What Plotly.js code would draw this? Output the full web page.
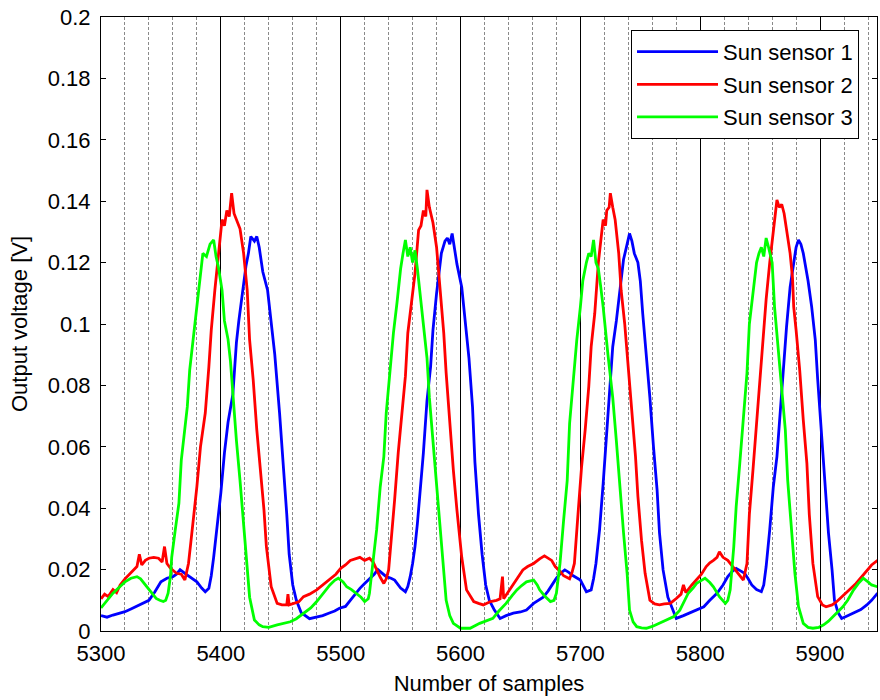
<!DOCTYPE html>
<html>
<head>
<meta charset="utf-8">
<script src="https://cdn.plot.ly/plotly-3.0.1.min.js"></script>
<style>html,body{margin:0;padding:0;background:#fff;}#chart{width:880px;height:700px;}</style>
</head>
<body>
<div id="chart"></div>
<script>
// ---- Data ----
const seriesNames = ["Sun sensor 1", "Sun sensor 2", "Sun sensor 3"];

const samplesS1 = [5300,5305,5310,5315,5320,5325,5330,5335,5340,5345,5350,5355,5360,5363,5366,5370,5373,5377,5380,5384,5387,5390,5392,5394,5397,5400,5403,5406,5410,5413,5415,5418,5421,5423,5425,5428,5430,5432,5435,5439,5442,5445,5449,5452,5455,5457,5460,5463,5467,5474,5480,5485,5490,5495,5499,5504,5508,5512,5516,5520,5524,5528,5531,5535,5538,5542,5545,5550,5554,5556,5558,5560,5562,5564,5566,5569,5572,5575,5577,5580,5584,5587,5589,5591,5593,5595,5597,5601,5604,5607,5610,5612,5615,5618,5621,5624,5628,5633,5638,5644,5650,5655,5661,5665,5669,5673,5676,5680,5684,5687,5690,5694,5700,5705,5709,5711,5713,5716,5719,5722,5725,5727,5730,5733,5736,5739,5741,5743,5745,5748,5750,5752,5755,5758,5761,5764,5766,5769,5773,5777,5780,5786,5791,5797,5803,5808,5814,5819,5823,5827,5830,5834,5837,5840,5843,5847,5851,5853,5855,5858,5861,5864,5867,5869,5872,5875,5878,5880,5882,5884,5886,5890,5893,5896,5898,5901,5904,5907,5910,5912,5915,5918,5923,5928,5934,5939,5943,5948];
const voltS1 = [0.0050,0.0045,0.0052,0.0058,0.0063,0.0072,0.0082,0.0090,0.0100,0.0128,0.0160,0.0172,0.0177,0.0185,0.0200,0.0188,0.0180,0.0170,0.0160,0.0140,0.0128,0.0139,0.0180,0.0240,0.0340,0.0450,0.0580,0.0680,0.0770,0.0940,0.1010,0.1110,0.1190,0.1230,0.1285,0.1270,0.1285,0.1250,0.1170,0.1110,0.1010,0.0900,0.0710,0.0550,0.0380,0.0250,0.0150,0.0100,0.0060,0.0040,0.0045,0.0050,0.0058,0.0065,0.0074,0.0080,0.0100,0.0120,0.0139,0.0155,0.0170,0.0185,0.0200,0.0185,0.0177,0.0172,0.0166,0.0140,0.0128,0.0145,0.0177,0.0220,0.0275,0.0350,0.0438,0.0580,0.0750,0.0860,0.0980,0.1100,0.1230,0.1270,0.1280,0.1260,0.1295,0.1250,0.1195,0.1120,0.1010,0.0890,0.0730,0.0550,0.0380,0.0250,0.0150,0.0100,0.0070,0.0041,0.0050,0.0058,0.0062,0.0068,0.0090,0.0100,0.0110,0.0130,0.0150,0.0172,0.0190,0.0199,0.0192,0.0180,0.0166,0.0128,0.0134,0.0170,0.0220,0.0330,0.0480,0.0640,0.0820,0.0926,0.1010,0.1110,0.1210,0.1260,0.1295,0.1270,0.1230,0.1200,0.1140,0.1035,0.0900,0.0760,0.0600,0.0460,0.0320,0.0199,0.0110,0.0070,0.0041,0.0050,0.0058,0.0068,0.0079,0.0100,0.0123,0.0150,0.0177,0.0195,0.0204,0.0195,0.0188,0.0170,0.0150,0.0135,0.0128,0.0150,0.0210,0.0330,0.0470,0.0568,0.0730,0.0860,0.0990,0.1120,0.1200,0.1250,0.1274,0.1260,0.1230,0.1140,0.1056,0.0948,0.0820,0.0644,0.0460,0.0320,0.0199,0.0100,0.0060,0.0041,0.0050,0.0058,0.0070,0.0085,0.0100,0.0123];

const samplesS2 = [5300,5303,5306,5310,5313,5316,5320,5325,5330,5332,5334,5337,5340,5344,5348,5351,5353,5355,5358,5363,5367,5370,5373,5375,5377,5380,5383,5387,5390,5392,5395,5398,5401,5403,5405,5407,5409,5411,5413,5416,5419,5422,5424,5427,5430,5433,5436,5438,5442,5447,5451,5455,5456,5457,5461,5465,5469,5474,5480,5485,5491,5496,5500,5504,5508,5512,5516,5520,5524,5527,5530,5533,5536,5538,5540,5543,5545,5548,5551,5554,5556,5559,5562,5565,5567,5569,5571,5572,5574,5577,5580,5583,5586,5588,5591,5594,5597,5601,5605,5611,5615,5619,5625,5630,5633,5635,5636,5641,5646,5652,5656,5661,5666,5670,5672,5676,5679,5683,5686,5691,5693,5695,5698,5701,5704,5707,5709,5712,5715,5717,5719,5721,5722,5724,5725,5727,5729,5732,5734,5737,5740,5743,5746,5748,5751,5754,5758,5762,5766,5770,5775,5780,5784,5786,5788,5793,5797,5801,5805,5808,5811,5814,5816,5819,5823,5827,5830,5833,5836,5839,5841,5844,5847,5850,5853,5855,5858,5861,5863,5864,5866,5868,5870,5872,5875,5877,5878,5880,5883,5886,5889,5891,5894,5898,5902,5905,5910,5914,5918,5922,5926,5930,5935,5939,5943,5948];
const voltS2 = [0.0105,0.0120,0.0112,0.0135,0.0125,0.0150,0.0170,0.0190,0.0210,0.0250,0.0215,0.0230,0.0237,0.0240,0.0237,0.0225,0.0275,0.0220,0.0204,0.0188,0.0185,0.0166,0.0220,0.0290,0.0360,0.0470,0.0600,0.0710,0.0860,0.0980,0.1110,0.1230,0.1340,0.1320,0.1370,0.1350,0.1426,0.1360,0.1340,0.1310,0.1230,0.1110,0.0948,0.0818,0.0655,0.0524,0.0394,0.0275,0.0144,0.0090,0.0085,0.0085,0.0120,0.0085,0.0090,0.0095,0.0112,0.0120,0.0134,0.0150,0.0170,0.0185,0.0204,0.0215,0.0230,0.0235,0.0240,0.0230,0.0237,0.0225,0.0199,0.0175,0.0155,0.0170,0.0199,0.0330,0.0427,0.0580,0.0710,0.0830,0.0970,0.1070,0.1165,0.1306,0.1320,0.1370,0.1350,0.1437,0.1380,0.1330,0.1250,0.1110,0.0970,0.0840,0.0676,0.0524,0.0394,0.0240,0.0134,0.0096,0.0090,0.0085,0.0096,0.0100,0.0105,0.0177,0.0105,0.0134,0.0165,0.0199,0.0210,0.0220,0.0235,0.0245,0.0240,0.0230,0.0210,0.0195,0.0180,0.0170,0.0190,0.0220,0.0380,0.0535,0.0655,0.0796,0.0926,0.1035,0.1200,0.1280,0.1340,0.1320,0.1370,0.1380,0.1426,0.1380,0.1340,0.1230,0.1110,0.1000,0.0860,0.0710,0.0568,0.0438,0.0296,0.0188,0.0100,0.0088,0.0085,0.0088,0.0090,0.0106,0.0120,0.0150,0.0125,0.0150,0.0166,0.0185,0.0210,0.0222,0.0230,0.0240,0.0258,0.0240,0.0230,0.0210,0.0193,0.0180,0.0166,0.0220,0.0380,0.0524,0.0676,0.0820,0.0960,0.1080,0.1200,0.1306,0.1380,0.1404,0.1380,0.1390,0.1360,0.1306,0.1230,0.1150,0.1056,0.0980,0.0850,0.0687,0.0546,0.0380,0.0220,0.0112,0.0085,0.0079,0.0085,0.0096,0.0110,0.0123,0.0140,0.0155,0.0178,0.0199,0.0215,0.0230];

const samplesS3 = [5300,5305,5310,5315,5320,5325,5330,5333,5335,5340,5343,5346,5349,5352,5354,5356,5358,5359,5362,5365,5367,5370,5372,5374,5377,5380,5383,5385,5388,5391,5394,5396,5398,5401,5403,5406,5408,5410,5413,5416,5419,5422,5424,5428,5432,5435,5440,5447,5452,5458,5463,5469,5475,5480,5485,5491,5495,5498,5502,5505,5509,5513,5517,5520,5523,5524,5527,5530,5533,5536,5538,5541,5544,5547,5550,5552,5554,5556,5558,5560,5562,5564,5566,5569,5572,5574,5577,5580,5583,5586,5588,5591,5594,5600,5608,5616,5621,5627,5632,5638,5643,5647,5651,5655,5661,5664,5666,5670,5675,5678,5680,5683,5686,5689,5691,5694,5697,5700,5702,5705,5707,5709,5711,5713,5715,5717,5719,5723,5727,5730,5733,5736,5739,5741,5744,5747,5751,5755,5760,5766,5772,5778,5783,5786,5790,5794,5797,5801,5804,5808,5811,5816,5821,5823,5825,5828,5830,5833,5836,5839,5841,5844,5847,5849,5851,5853,5855,5857,5860,5862,5865,5868,5871,5873,5876,5879,5882,5886,5890,5894,5899,5903,5907,5911,5915,5919,5923,5928,5932,5936,5940,5943,5948];
const voltS3 = [0.0075,0.0100,0.0123,0.0142,0.0160,0.0172,0.0177,0.0170,0.0160,0.0134,0.0120,0.0106,0.0100,0.0096,0.0100,0.0123,0.0180,0.0240,0.0330,0.0416,0.0557,0.0650,0.0730,0.0850,0.0948,0.1056,0.1154,0.1230,0.1220,0.1260,0.1274,0.1220,0.1185,0.1110,0.1010,0.0950,0.0880,0.0770,0.0620,0.0490,0.0350,0.0220,0.0110,0.0036,0.0020,0.0014,0.0012,0.0020,0.0025,0.0030,0.0040,0.0058,0.0075,0.0096,0.0120,0.0150,0.0165,0.0172,0.0160,0.0144,0.0135,0.0123,0.0110,0.0096,0.0105,0.0123,0.0220,0.0330,0.0470,0.0568,0.0710,0.0840,0.0970,0.1070,0.1180,0.1230,0.1274,0.1220,0.1250,0.1200,0.1240,0.1180,0.1110,0.1010,0.0890,0.0760,0.0620,0.0470,0.0330,0.0210,0.0100,0.0050,0.0025,0.0009,0.0009,0.0025,0.0033,0.0041,0.0065,0.0090,0.0115,0.0134,0.0148,0.0160,0.0166,0.0150,0.0134,0.0115,0.0096,0.0100,0.0123,0.0220,0.0360,0.0490,0.0676,0.0820,0.0948,0.1056,0.1140,0.1200,0.1230,0.1220,0.1274,0.1200,0.1180,0.1120,0.1056,0.0900,0.0760,0.0620,0.0460,0.0320,0.0188,0.0068,0.0030,0.0014,0.0010,0.0009,0.0015,0.0025,0.0035,0.0047,0.0068,0.0090,0.0123,0.0140,0.0155,0.0165,0.0172,0.0158,0.0144,0.0112,0.0090,0.0100,0.0134,0.0275,0.0405,0.0546,0.0687,0.0840,0.1000,0.1110,0.1200,0.1230,0.1250,0.1220,0.1280,0.1250,0.1200,0.1056,0.0926,0.0796,0.0655,0.0490,0.0330,0.0188,0.0079,0.0025,0.0012,0.0009,0.0012,0.0020,0.0032,0.0047,0.0062,0.0079,0.0100,0.0134,0.0155,0.0172,0.0160,0.0150,0.0144];

const seriesColors = ["#0000FF", "#FF0000", "#00FF00"];
const xTitle = "Number of samples";
const yTitle = "Output voltage [V]";

// ---- Build figure ----
const xs = [samplesS1, samplesS2, samplesS3];
const ys = [voltS1, voltS2, voltS3];
const traces = seriesNames.map((n, i) => ({
  type: "scatter", mode: "lines", name: n,
  x: xs[i], y: ys[i],
  line: {color: seriesColors[i], width: 2.8},
  legendgroup: "g" + i
}));

const font = {family: "Liberation Sans, Arial, sans-serif", size: 22, color: "#000"};

const layout = {
  width: 880, height: 700,
  margin: {l: 101, r: 3, t: 17, b: 69},
  paper_bgcolor: "#fff", plot_bgcolor: "#fff",
  font: font,
  showlegend: true,
  legend: {
    x: 0.683, y: 0.979, xanchor: "left", yanchor: "top",
    bgcolor: "#fff", bordercolor: "#000", borderwidth: 1,
    font: font, tracegroupgap: 1, itemwidth: 81,
    entrywidth: 240, entrywidthmode: "pixels"
  },
  xaxis: {
    range: [5300, 5947.5], dtick: 100, tick0: 5300,
    showline: true, linecolor: "#000", linewidth: 1, mirror: "ticks",
    ticks: "inside", ticklen: 5, tickcolor: "#000",
    showgrid: true, gridcolor: "#000", gridwidth: 1,
    zeroline: false,
    minor: {dtick: 20, tick0: 5300, showgrid: true, gridcolor: "#8a8a8a", griddash: "3px,2px", gridwidth: 1, ticks: ""},
    title: {text: xTitle, font: font, standoff: 10},
    tickfont: font, ticklabelstandoff: 3
  },
  yaxis: {
    range: [0, 0.2], dtick: 0.02, tick0: 0,
    showline: true, linecolor: "#000", linewidth: 1, mirror: "ticks",
    ticks: "inside", ticklen: 5, tickcolor: "#000",
    showgrid: false, zeroline: false,
    title: {text: yTitle, font: font, standoff: 14},
    tickfont: font, ticklabelstandoff: 5
  }
};

Plotly.newPlot("chart", traces, layout, {staticPlot: true, displayModeBar: false});
</script>
</body>
</html>
